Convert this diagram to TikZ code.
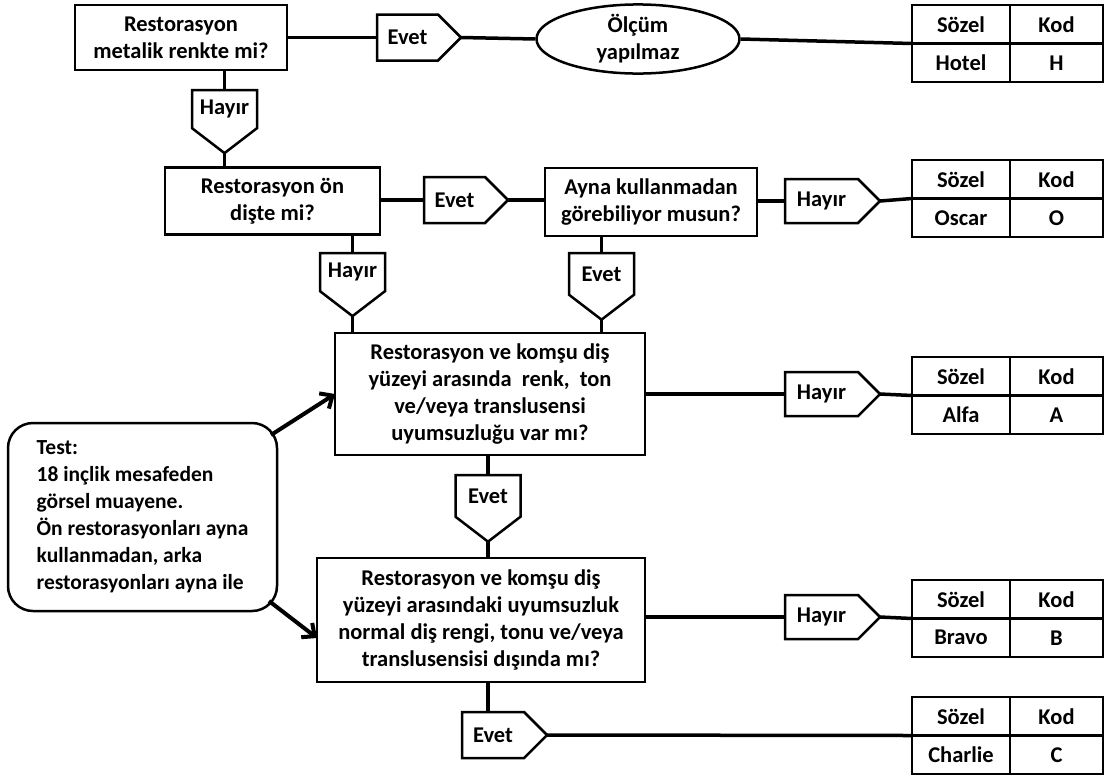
\documentclass[tikz,border=0pt]{standalone}
\usepackage{fontspec}
\setmainfont{Carlito}
\usetikzlibrary{positioning, arrows.meta, shapes.geometric, shapes.symbols}

% kod tablosu: ad, sol ust kose, sozel, kod
\newcommand{\kodtablo}[4]{%
    \node[hucre, minimum width=98, anchor=north west] (#1-s) at (#2) {Sözel};
    \node[hucre, minimum width=93, anchor=west] (#1-k) at (#1-s.east) {Kod};
    \node[hucre, minimum width=98, anchor=north] (#1-w) at (#1-s.south) {#3};
    \node[hucre, minimum width=93, anchor=north] (#1-c) at (#1-k.south) {#4};
}

\begin{document}
\begin{tikzpicture}[
    x=1pt, y=-1pt,
    line width=3.5pt,
    every node/.style={font=\fontsize{22.5}{27}\selectfont\bfseries, line width=2.5pt},
    soru/.style={rectangle, draw, align=center, inner sep=0pt, outer sep=0pt},
    sag/.style={signal, signal to=east, draw, fill=white, anchor=west, minimum width=84, minimum height=46, inner sep=0pt, outer sep=0pt},
    asagi/.style={signal, signal to=south, signal pointer angle=105, draw, fill=white, anchor=north, minimum width=65, minimum height=57, inner sep=0pt, outer sep=0pt},
    hucre/.style={rectangle, draw, minimum height=38.5, inner sep=0pt, outer sep=0pt},
    ok/.style={-{Straight Barb[length=10pt,width=18pt]}, line width=4pt}
]
    \useasboundingbox (0,0) rectangle (1105,774);

    % Sorular
    \node[soru, minimum width=212, minimum height=65] (s1) at (181,37.5) {Restorasyon\\metalik renkte mi?};
    \node[soru, minimum width=215, minimum height=67] (s2) at (272.5,201) {Restorasyon ön\\dişte mi?};
    \node[soru, minimum width=212, minimum height=68] (s3) at (651,202) {Ayna kullanmadan\\görebiliyor musun?};
    \node[soru, minimum width=310, minimum height=122] (s4) at (490,394) {Restorasyon ve komşu diş\\yüzeyi arasında\ \ renk,\ \ ton\\ve/veya translusensi\\uyumsuzluğu var mı?};
    \node[soru, minimum width=328, minimum height=124] (s5) at (481,620) {Restorasyon ve komşu diş\\yüzeyi arasındaki uyumsuzluk\\normal diş rengi, tonu ve/veya\\translusensisi dışında mı?};
    \node[ellipse, draw, minimum width=203, minimum height=68, align=center, inner sep=0pt] (olc) at (638,39) {Ölçüm\\yapılmaz};
    \node[soru, rounded corners=25pt, minimum width=269, minimum height=188, align=left, font=\fontsize{21.5}{27}\selectfont\bfseries] (test) at (142.5,517) {Test:\\18 inçlik mesafeden\\görsel muayene.\\Ön restorasyonları ayna\\kullanmadan, arka\\restorasyonları ayna ile};

    % Etiketler
    \node[sag] (e1) at (377,37.5) {Evet};
    \node[sag] (e2) at (424,200) {Evet};
    \node[sag, minimum width=95, minimum height=44] (h2) at (785,201) {Hayır};
    \node[sag, minimum width=95, minimum height=44] (h4) at (785,394) {Hayır};
    \node[sag, minimum width=95, minimum height=44] (h5) at (785,617) {Hayır};
    \node[sag, minimum width=85] (e5) at (462,735) {Evet};
    \node[asagi] (h1) at (224.5,90) {Hayır};
    \node[asagi] (h3) at (352.5,253) {Hayır};
    \node[asagi] (e3) at (601.5,253) {Evet};
    \node[asagi] (e4) at (488,475) {Evet};

    % Kod tablolari
    \kodtablo{tH}{912,5}{Hotel}{H}
    \kodtablo{tO}{912,160}{Oscar}{O}
    \kodtablo{tA}{912,357}{Alfa}{A}
    \kodtablo{tB}{912,580}{Bravo}{B}
    \kodtablo{tC}{912,697}{Charlie}{C}

    % Baglantilar
    \draw (s1.east) -- (e1.west);
    \draw (e1.east) -- (olc.west);
    \draw (olc.east) -- (tH-s.south west);
    \draw (s1.south -| h1.north) -- (h1.north);
    \draw (h1.south) -- (h1.south |- s2.north);
    \draw (s2.east |- e2.west) -- (e2.west);
    \draw (e2.east) -- (e2.east -| s3.west);
    \draw (s3.east |- h2.west) -- (h2.west);
    \draw (h2.east) -- (tO-s.south west);
    \draw (s2.south -| h3.north) -- (h3.north);
    \draw (h3.south) -- (h3.south |- s4.north);
    \draw (s3.south -| e3.north) -- (e3.north);
    \draw (e3.south) -- (e3.south |- s4.north);
    \draw (s4.east) -- (h4.west);
    \draw (h4.east) -- (tA-s.south west);
    \draw (s4.south -| e4.north) -- (e4.north);
    \draw (e4.south) -- (e4.south |- s5.north);
    \draw (s5.east |- h5.west) -- (h5.west);
    \draw (h5.east) -- (tB-s.south west);
    \draw (e4.south |- s5.south) -- (e4.south |- e5.north);
    \draw (e5.east) -- (tC-s.south west);

    % Test oklari
    \draw[ok] ([xshift=-6pt,yshift=-12pt]test.north east) -- (s4.west);
    \draw[ok] ([xshift=-8pt,yshift=10pt]test.south east) -- ([yshift=-18pt]s5.west);

\end{tikzpicture}
\end{document}
